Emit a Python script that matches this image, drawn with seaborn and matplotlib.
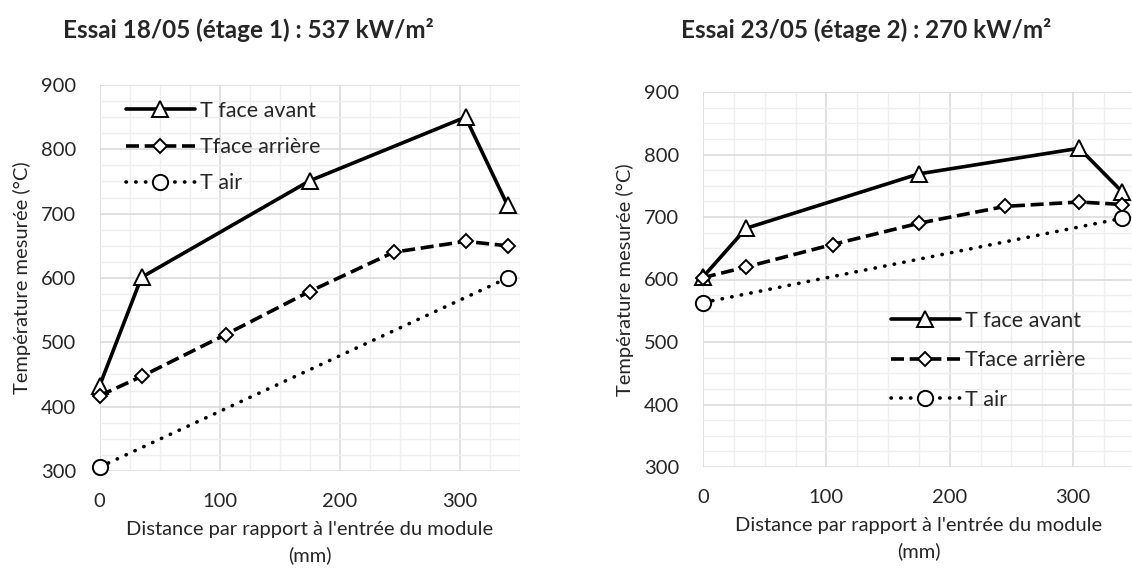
"""
Temperature profiles along the module for two test runs (Essai 18/05 and 23/05).
"""

import pandas as pd
import matplotlib.pyplot as plt
import seaborn as sns
from matplotlib.ticker import MultipleLocator

# Essai 18/05 (etage 1)
x_avant_1 = [0, 35, 175, 305, 340]
t_avant_1 = [432, 601, 751, 850, 713]
x_arriere_1 = [0, 35, 105, 175, 245, 305, 340]
t_arriere_1 = [417, 447, 512, 579, 640, 657, 650]
x_air_1 = [0, 340]
t_air_1 = [306, 600]

# Essai 23/05 (etage 2)
x_avant_2 = [0, 35, 175, 305, 340]
t_avant_2 = [604, 682, 769, 810, 740]
x_arriere_2 = [0, 35, 105, 175, 245, 305, 340]
t_arriere_2 = [603, 620, 656, 690, 717, 724, 720]
x_air_2 = [0, 340]
t_air_2 = [563, 698]

titles = ["Essai 18/05 (étage 1) : 537 kW/m²", "Essai 23/05 (étage 2) : 270 kW/m²"]
series_names = ["T face avant", "Tface arrière", "T air"]

sns.set_style("white")
plt.rcParams['font.family'] = ['Lato', 'DejaVu Sans']

W, H = 1132, 583
fig = plt.figure(figsize=(W / 100, H / 100), dpi=100)


def px_axes(left, top, right, bottom):
    return fig.add_axes([left / W, 1 - bottom / H, (right - left) / W, (bottom - top) / H])


def draw_panel(ax, xa, ta, xr, tr, xair, tair):
    df_a = pd.DataFrame({"x": xa, "t": ta})
    df_r = pd.DataFrame({"x": xr, "t": tr})
    df_o = pd.DataFrame({"x": xair, "t": tair})
    common = dict(color="black", markerfacecolor="white", markeredgecolor="black",
                  markeredgewidth=1.4, lw=2.6, clip_on=False, zorder=3)
    sns.lineplot(data=df_a, x="x", y="t", ax=ax, marker="^", markersize=11,
                 linestyle="-", label=series_names[0], **common)
    # dash pattern chosen so the legend handle ends on a dash
    sns.lineplot(data=df_r, x="x", y="t", ax=ax, marker="D", markersize=7.5,
                 linestyle=(0, (3.6, 1.57)), label=series_names[1], **common)
    sns.lineplot(data=df_o, x="x", y="t", ax=ax, marker="o", markersize=11,
                 linestyle=(0, (0.1, 2.6)), dash_capstyle="round", label=series_names[2], **common)

    ax.set_xlim(0, 350)
    ax.set_ylim(300, 900)
    ax.xaxis.set_major_locator(MultipleLocator(100))
    ax.xaxis.set_minor_locator(MultipleLocator(25))
    ax.yaxis.set_major_locator(MultipleLocator(100))
    ax.yaxis.set_minor_locator(MultipleLocator(25))
    ax.grid(which="major", color="#d9d9d9", lw=1.1)
    ax.grid(which="minor", color="#efefef", lw=1.0)
    ax.set_axisbelow(True)
    for s in ax.spines.values():
        s.set_visible(False)
    ax.tick_params(which="both", length=0, labelsize=14.5)
    ax.tick_params(axis="y", pad=17)
    ax.tick_params(axis="x", pad=16)
    ax.set_xlabel("Distance par rapport à l'entrée du module\n(mm)", fontsize=14.5,
                  linespacing=1.5, labelpad=8)
    ax.set_ylabel("Température mesurée (°C)", fontsize=14.5, labelpad=7)


def add_legend(ax, left, top, spacing):
    ax.legend(loc="upper left", bbox_to_anchor=(left / W, 1 - top / H), bbox_transform=fig.transFigure,
              frameon=False, fontsize=15.5, handlelength=3.2, handletextpad=0.25,
              borderpad=0, borderaxespad=0, labelspacing=spacing, numpoints=1)


ax1 = px_axes(99.5, 85, 519.5, 471)
draw_panel(ax1, x_avant_1, t_avant_1, x_arriere_1, t_arriere_1, x_air_1, t_air_1)
add_legend(ax1, 126, 101, 0.75)

ax2 = px_axes(703, 92, 1134.7, 467)
draw_panel(ax2, x_avant_2, t_avant_2, x_arriere_2, t_arriere_2, x_air_2, t_air_2)
add_legend(ax2, 891, 311, 0.9)

fig.text(248 / W, 1 - 30 / H, titles[0], ha="center", va="center", fontsize=17.5, fontweight="bold")
fig.text(866 / W, 1 - 30 / H, titles[1], ha="center", va="center", fontsize=17.5, fontweight="bold")

fig.savefig("out.png", dpi=100)
